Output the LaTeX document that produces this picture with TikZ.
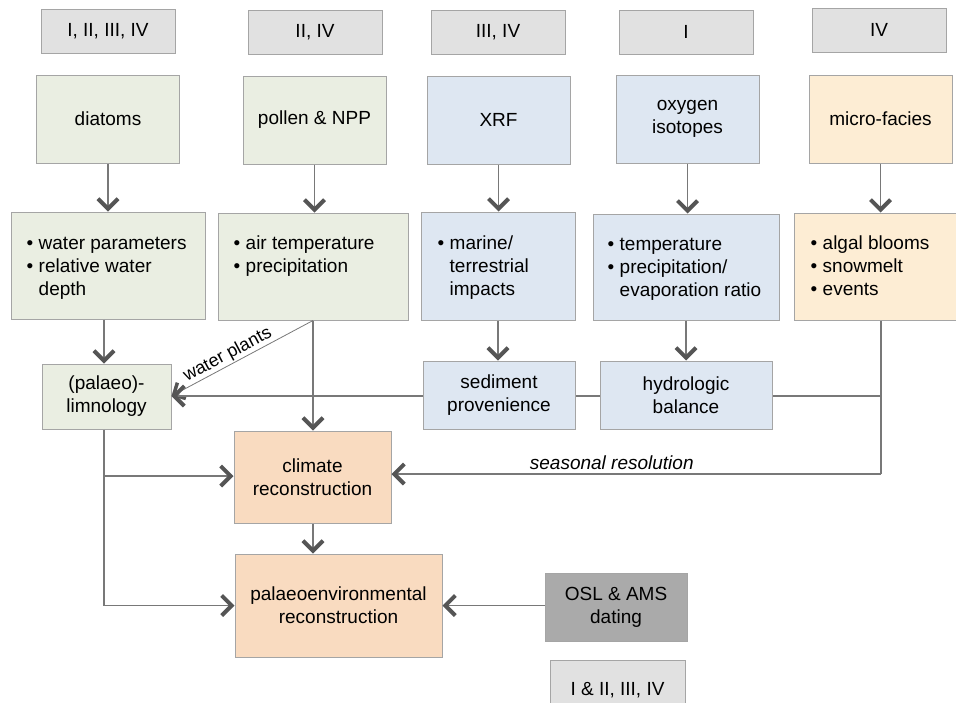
\documentclass[tikz,border=0pt]{standalone}
\usepackage{fontspec}
\setmainfont{Liberation Sans}
\usetikzlibrary{arrows.meta,calc}
\definecolor{lblfill}{RGB}{225,225,225}
\definecolor{boxdraw}{RGB}{165,165,165}
\definecolor{grfill}{RGB}{234,238,226}
\definecolor{blfill}{RGB}{222,231,242}
\definecolor{orlfill}{RGB}{253,237,212}
\definecolor{orfill}{RGB}{249,219,192}
\definecolor{dkfill}{RGB}{170,170,170}
\definecolor{linec}{RGB}{120,120,120}
\definecolor{arrc}{RGB}{85,85,85}
\newcommand\myb[1]{\makebox[12pt][l]{\textbullet}#1}
\tikzset{
  basebox/.style={draw=boxdraw, line width=1pt, rectangle, inner sep=0pt, align=center,
    font=\fontsize{19}{23}\selectfont, text=black},
  lblbox/.style={basebox, fill=lblfill},
  grbox/.style={basebox, fill=grfill},
  blbox/.style={basebox, fill=blfill},
  orlbox/.style={basebox, fill=orlfill},
  orbox/.style={basebox, fill=orfill},
  dkbox/.style={basebox, fill=dkfill},
  btext/.style={inner sep=0pt, anchor=base west, font=\fontsize{19}{23}\selectfont},
  conn/.style={draw=linec, line width=1.3pt},
  arr/.style={conn, -{Straight Barb[length=10pt,width=20pt,line width=4pt,color=arrc]}},
  thinarr/.style={draw=linec, line width=0.8pt, -{Straight Barb[length=9pt,width=18pt,line width=3.5pt,color=arrc]}}
}
\begin{document}
\begin{tikzpicture}[x=1pt,y=-1pt]
\useasboundingbox (0,0) rectangle (956,702);
\clip (0,0) rectangle (956,702);
% top labels
\node[lblbox, minimum width=134pt, minimum height=44pt] (L1) at (108,31) {I, II, III, IV};
\node[lblbox, minimum width=134pt, minimum height=44pt] (L2) at (315,32) {II, IV};
\node[lblbox, minimum width=134pt, minimum height=44pt] (L3) at (498,32) {III, IV};
\node[lblbox, minimum width=134pt, minimum height=44pt] (L4) at (686,32) {I};
\node[lblbox, minimum width=134pt, minimum height=44pt] (L5) at (879,30) {IV};
% methods
\node[grbox, minimum width=143pt, minimum height=88pt] (M1) at (108,119) {diatoms};
\node[grbox, minimum width=143pt, minimum height=88pt] (M2) at (314.5,120) {pollen \& NPP};
\node[blbox, minimum width=143pt, minimum height=88pt] (M3) at (498.5,120) {XRF};
\node[blbox, minimum width=143pt, minimum height=88pt] (M4) at (687.5,119) {oxygen\\isotopes};
\node[orlbox, minimum width=143pt, minimum height=88pt] (M5) at (880.5,119) {micro-facies};
% results
\node[grbox, minimum width=194pt, minimum height=107pt] (R1) at (108,265.5) {};
\node[grbox, minimum width=190pt, minimum height=107pt] (R2) at (313,266.5) {};
\node[blbox, minimum width=154pt, minimum height=108pt] (R3) at (498,266) {};
\node[blbox, minimum width=186pt, minimum height=106pt] (R4) at (686,267) {};
\node[orlbox, minimum width=172pt, minimum height=107pt] (R5) at (880,266.5) {};
\node[btext] (T1) at ($(R1.north west)+(16,38)$) {\begin{minipage}[t]{180pt}\myb{water parameters}\\\myb{relative water}\\\hspace*{12pt}depth\end{minipage}};
\node[btext] (T2) at ($(R2.north west)+(16,37)$) {\begin{minipage}[t]{170pt}\myb{air temperature}\\\myb{precipitation}\end{minipage}};
\node[btext] (T3) at ($(R3.north west)+(17,38)$) {\begin{minipage}[t]{140pt}\myb{marine/}\\\hspace*{12pt}terrestrial\\\hspace*{12pt}impacts\end{minipage}};
\node[btext] (T4) at ($(R4.north west)+(15,37)$) {\begin{minipage}[t]{170pt}\myb{temperature}\\\myb{precipitation/}\\\hspace*{12pt}evaporation ratio\end{minipage}};
\node[btext] (T5) at ($(R5.north west)+(17,37)$) {\begin{minipage}[t]{150pt}\myb{algal blooms}\\\myb{snowmelt}\\\myb{events}\end{minipage}};
% interpretation
\node[grbox, minimum width=129pt, minimum height=65pt] (LM) at (106.5,396.5) {(palaeo)-\\limnology};
\node[blbox, minimum width=152pt, minimum height=68pt] (SP) at (499,395) {sediment\\provenience};
\node[blbox, minimum width=172pt, minimum height=68pt] (HB) at (686,395) {hydrologic\\balance};
\node[orbox, minimum width=157pt, minimum height=92pt] (CR) at (312.5,477) {climate\\reconstruction};
\node[orbox, minimum width=207pt, minimum height=103pt] (PR) at (338.5,605.5) {palaeoenvironmental\\reconstruction};
\node[dkbox, minimum width=142pt, minimum height=68pt] (OS) at (616,607) {OSL \& AMS\\dating};
\node[lblbox, minimum width=135pt, minimum height=60pt] (L6) at (617.5,690) {I \& II, III, IV};
% coordinates
\coordinate (J1) at (881,396);
\coordinate (J2) at (881,474);
\coordinate (J3) at (104,476);
\coordinate (J4) at (104,605.5);
% vertical arrows
\draw[arr] (M1.south) -- (M1.south |- R1.north);
\draw[arr] (M2.south) -- (M2.south |- R2.north);
\draw[arr] (M3.south) -- (M3.south |- R3.north);
\draw[arr] (M4.south) -- (M4.south |- R4.north);
\draw[arr] (M5.south) -- (M5.south |- R5.north);
\draw[arr] (R1.south -| J3) -- (J3 |- LM.north);
\draw[arr] (R2.south) -- (R2.south |- CR.north);
\draw[arr] (R3.south) -- (R3.south |- SP.north);
\draw[arr] (R4.south) -- (R4.south |- HB.north);
\draw[arr] (CR.south -| R2.south) -- (R2.south |- PR.north);
% water plants
\draw[thinarr] (R2.south) -- node[sloped, above, pos=0.57, inner sep=0pt, yshift=1pt, font=\fontsize{18}{22}\selectfont] {water plants} (LM.east |- J1);
% horizontal line to limnology
\draw[conn] (R5.south -| J1) -- (J2);
\draw[conn] (J1) -- (HB.east |- J1);
\draw[conn] (HB.west |- J1) -- (SP.east |- J1);
\draw[arr] (SP.west |- J1) -- (LM.east |- J1);
% seasonal resolution
\draw[arr] (J2) -- node[above, pos=0.55, inner sep=4pt, font=\fontsize{19}{23}\selectfont\itshape] {seasonal resolution} (CR.east |- J2);
% limnology to reconstructions
\draw[conn] (LM.south -| J3) -- (J4);
\draw[arr] (J3) -- (CR.west |- J3);
\draw[arr] (J4) -- (PR.west |- J4);
% dating
\draw[arr] (OS.west |- PR.east) -- (PR.east);
\end{tikzpicture}
\end{document}
